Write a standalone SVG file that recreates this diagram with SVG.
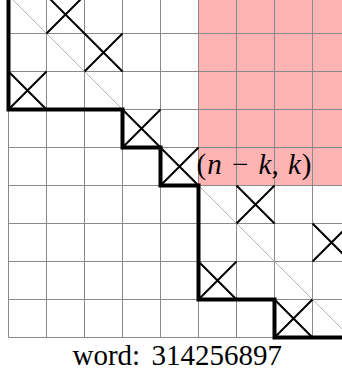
<svg xmlns="http://www.w3.org/2000/svg" width="342" height="376" viewBox="0 0 342 376">
<style>
.grid{stroke:#8a8a8a;stroke-width:1;fill:none}
.diag{stroke:#b8b8b8;stroke-width:1;fill:none}
.x{stroke:#000;stroke-width:2;fill:none}
.path{stroke:#000;stroke-width:4;fill:none;stroke-linejoin:miter;stroke-linecap:square}
</style>
<rect width="342" height="376" fill="#fff"/>
<rect id="region" x="198.5" y="-5" width="150" height="190.5" fill="#FFB3B3"/>
<g id="grid" class="grid">
<path d="M8.5 -5V337.5M46.5 -5V337.5M84.5 -5V337.5M122.5 -5V337.5M160.5 -5V337.5M198.5 -5V337.5M236.5 -5V337.5M274.5 -5V337.5M312.5 -5V337.5"/>
<path d="M8.5 33.5H350M8.5 71.5H350M8.5 109.5H350M8.5 147.5H350M8.5 185.5H350M8.5 223.5H350M8.5 261.5H350M8.5 299.5H350M8.5 337.5H350"/>
</g>
<path id="diagonal" class="diag" d="M8.5 -4.5L350.5 337.5"/>
<g id="crosses" class="x">
<g id="c0"><path d="M46.5 -4.5L84.5 33.5M46.5 33.5L84.5 -4.5"/></g>
<g id="c1"><path d="M84.5 33.5L122.5 71.5M84.5 71.5L122.5 33.5"/></g>
<g id="c2"><path d="M8.5 71.5L46.5 109.5M8.5 109.5L46.5 71.5"/></g>
<g id="c3"><path d="M122.5 109.5L160.5 147.5M122.5 147.5L160.5 109.5"/></g>
<g id="c4"><path d="M160.5 147.5L198.5 185.5M160.5 185.5L198.5 147.5"/></g>
<g id="c5"><path d="M236.5 185.5L274.5 223.5M236.5 223.5L274.5 185.5"/></g>
<g id="c6"><path d="M312.5 223.5L350.5 261.5M312.5 261.5L350.5 223.5"/></g>
<g id="c7"><path d="M198.5 261.5L236.5 299.5M198.5 299.5L236.5 261.5"/></g>
<g id="c8"><path d="M274.5 299.5L312.5 337.5M274.5 337.5L312.5 299.5"/></g>
</g>
<g id="connectors">
<path class="path" d="M8.5 -10V109.5H122.5V147.5H160.5V185.5H198.5V299.5H274.5V337.5H350"/>
</g>
<text id="label" font-family="Liberation Serif" x="196.5" y="174" font-size="29">(<tspan font-style="italic" dx="1">n</tspan><tspan dx="3"> − </tspan><tspan font-style="italic" dx="3">k</tspan>,<tspan font-style="italic" dx="2"> k</tspan><tspan dx="1">)</tspan></text>
<text id="word" font-family="Liberation Serif" x="72.5" y="365" font-size="29"><tspan>word:</tspan><tspan dx="4"> 314256897</tspan></text>
</svg>
